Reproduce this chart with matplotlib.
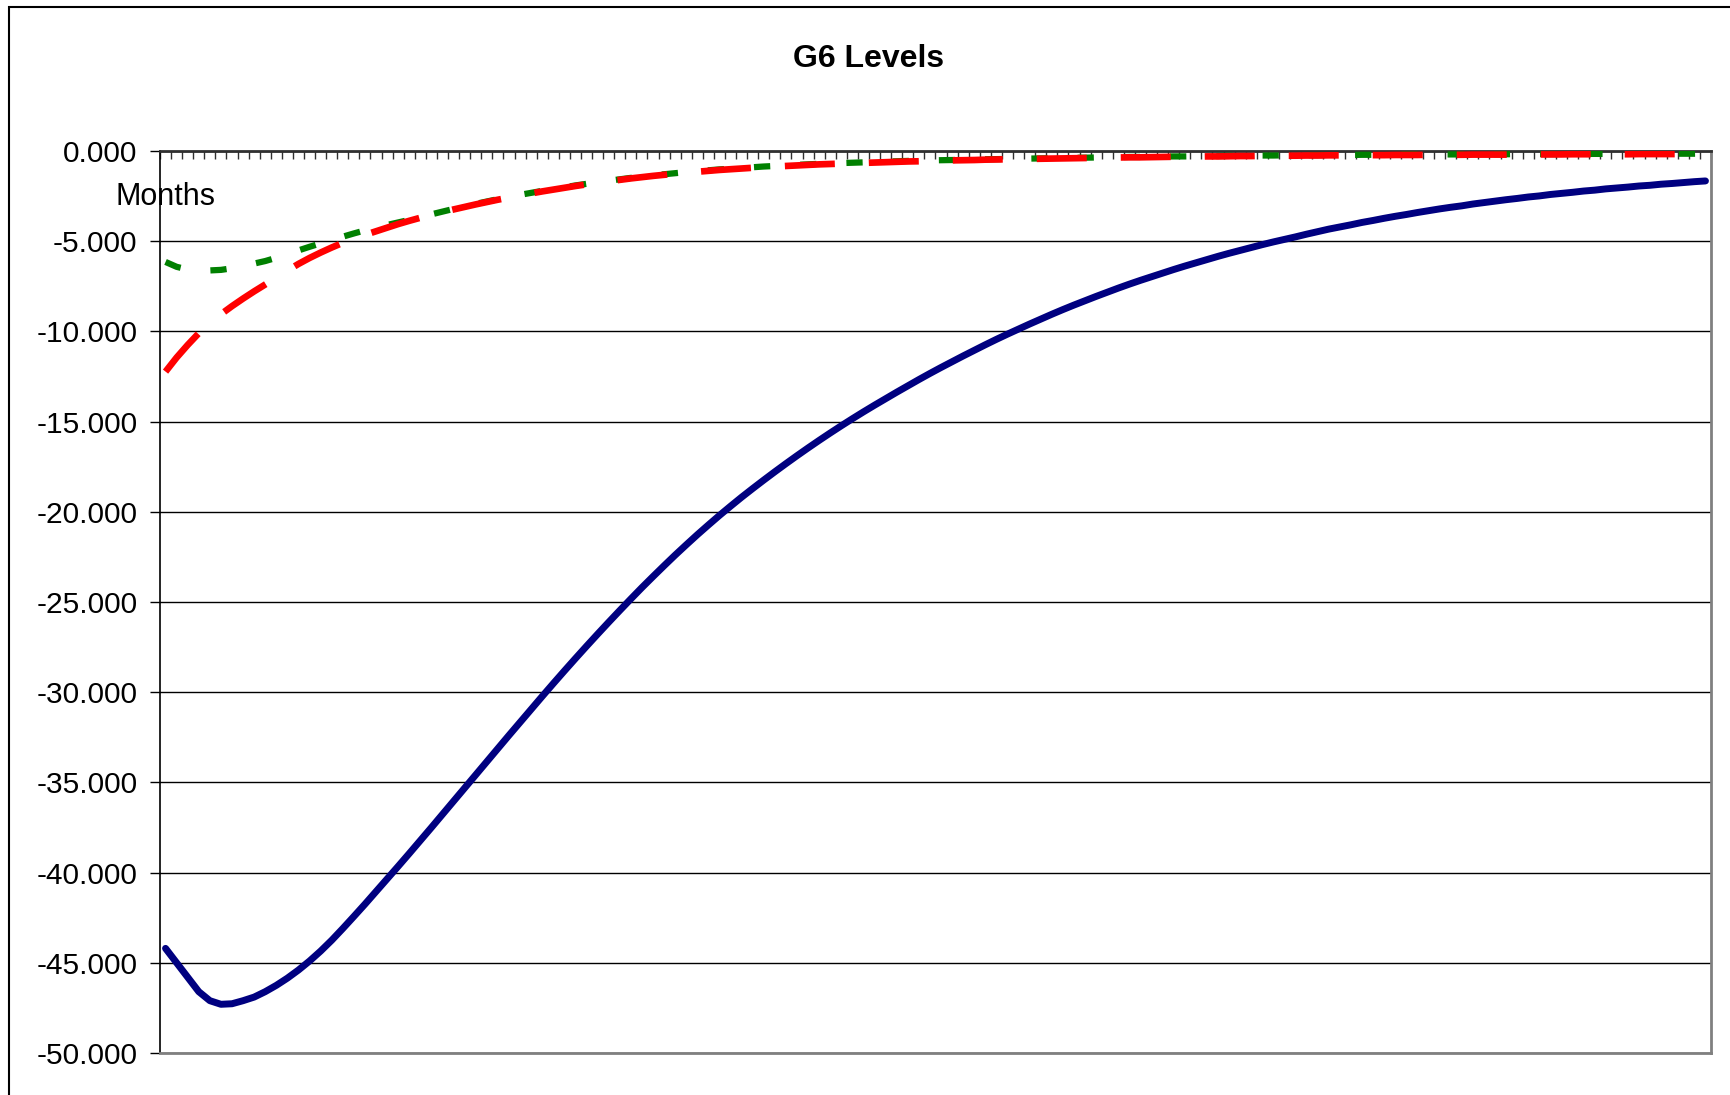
import numpy as np
import matplotlib
matplotlib.use("Agg")
import matplotlib.pyplot as plt
from matplotlib.patches import Rectangle

plt.rcParams['font.family'] = ['Liberation Sans', 'DejaVu Sans']

title = "G6 Levels"
x_title = "Months"
y_ticks = [0, -5, -10, -15, -20, -25, -30, -35, -40, -45, -50]
y_tick_labels = [f"{v:.3f}" for v in y_ticks]

blue = [
    -44.20, -45.00, -45.80, -46.60, -47.10, -47.30, -47.27, -47.10, -46.90, -46.60,
    -46.25, -45.85, -45.40, -44.90, -44.35, -43.75, -43.10, -42.43, -41.75, -41.05,
    -40.35, -39.65, -38.94, -38.22, -37.50, -36.77, -36.04, -35.31, -34.58, -33.85,
    -33.12, -32.39, -31.67, -30.95, -30.23, -29.52, -28.82, -28.13, -27.45, -26.78,
    -26.12, -25.47, -24.83, -24.20, -23.59, -22.99, -22.40, -21.83, -21.27, -20.73,
    -20.20, -19.69, -19.19, -18.71, -18.24, -17.78, -17.33, -16.89, -16.46, -16.04,
    -15.63, -15.23, -14.84, -14.46, -14.09, -13.73, -13.37, -13.02, -12.67, -12.33,
    -12.00, -11.68, -11.36, -11.05, -10.74, -10.44, -10.15, -9.87, -9.59, -9.32,
    -9.05, -8.79, -8.54, -8.30, -8.06, -7.83, -7.60, -7.38, -7.17, -6.97,
    -6.77, -6.57, -6.38, -6.20, -6.02, -5.84, -5.67, -5.51, -5.35, -5.19,
    -5.04, -4.90, -4.76, -4.61, -4.47, -4.33, -4.21, -4.09, -3.96, -3.85,
    -3.73, -3.62, -3.52, -3.41, -3.31, -3.21, -3.12, -3.04, -2.94, -2.86,
    -2.78, -2.70, -2.63, -2.55, -2.49, -2.41, -2.35, -2.29, -2.22, -2.17,
    -2.10, -2.05, -2.00, -1.94, -1.90, -1.84, -1.80, -1.75, -1.70, -1.66,
]

red = [
    -12.23, -11.45, -10.75, -10.10, -9.55, -9.05, -8.60, -8.18, -7.78, -7.40,
    -7.02, -6.63, -6.26, -5.93, -5.63, -5.35, -5.09, -4.86, -4.65, -4.45,
    -4.25, -4.05, -3.87, -3.70, -3.54, -3.39, -3.24, -3.10, -2.96, -2.83,
    -2.70, -2.58, -2.46, -2.35, -2.24, -2.14, -2.04, -1.94, -1.85, -1.76,
    -1.68, -1.60, -1.52, -1.45, -1.38, -1.32, -1.26, -1.20, -1.15, -1.10,
    -1.05, -1.01, -0.97, -0.93, -0.89, -0.86, -0.83, -0.80, -0.77, -0.74,
    -0.72, -0.70, -0.68, -0.66, -0.64, -0.62, -0.60, -0.58, -0.57, -0.55,
    -0.54, -0.52, -0.51, -0.50, -0.48, -0.47, -0.46, -0.45, -0.44, -0.43,
    -0.42, -0.41, -0.40, -0.39, -0.38, -0.37, -0.36, -0.35, -0.35, -0.34,
    -0.33, -0.32, -0.32, -0.31, -0.30, -0.30, -0.29, -0.28, -0.28, -0.27,
    -0.27, -0.26, -0.26, -0.25, -0.25, -0.24, -0.24, -0.24, -0.23, -0.23,
    -0.23, -0.22, -0.22, -0.22, -0.21, -0.21, -0.21, -0.21, -0.20, -0.20,
    -0.20, -0.20, -0.19, -0.19, -0.19, -0.19, -0.19, -0.18, -0.18, -0.18,
    -0.18, -0.18, -0.18, -0.17, -0.17, -0.17, -0.17, -0.17, -0.17, -0.16,
]

green = [
    -6.15, -6.42, -6.57, -6.63, -6.62, -6.59, -6.50, -6.38, -6.24, -6.10,
    -5.92, -5.72, -5.51, -5.31, -5.12, -4.93, -4.75, -4.57, -4.40, -4.24,
    -4.10, -3.96, -3.82, -3.67, -3.51, -3.36, -3.21, -3.07, -2.93, -2.80,
    -2.67, -2.55, -2.43, -2.32, -2.21, -2.11, -2.01, -1.91, -1.82, -1.73,
    -1.65, -1.57, -1.49, -1.42, -1.35, -1.29, -1.23, -1.17, -1.12, -1.07,
    -1.02, -0.98, -0.94, -0.90, -0.86, -0.83, -0.80, -0.77, -0.74, -0.71,
    -0.69, -0.67, -0.65, -0.63, -0.61, -0.59, -0.57, -0.55, -0.54, -0.52,
    -0.51, -0.50, -0.49, -0.48, -0.46, -0.45, -0.44, -0.43, -0.42, -0.41,
    -0.40, -0.39, -0.38, -0.37, -0.36, -0.35, -0.34, -0.33, -0.33, -0.32,
    -0.31, -0.30, -0.30, -0.29, -0.28, -0.28, -0.27, -0.26, -0.26, -0.25,
    -0.25, -0.24, -0.24, -0.23, -0.23, -0.22, -0.22, -0.22, -0.21, -0.21,
    -0.21, -0.20, -0.20, -0.20, -0.19, -0.19, -0.19, -0.19, -0.18, -0.18,
    -0.18, -0.18, -0.17, -0.17, -0.17, -0.17, -0.17, -0.16, -0.16, -0.16,
    -0.16, -0.16, -0.16, -0.15, -0.15, -0.15, -0.15, -0.15, -0.15, -0.14,
]

months = np.arange(len(blue))

W, H = 1730, 1095
fig = plt.figure(figsize=(W / 100, H / 100), dpi=100)
fig.patch.set_facecolor('white')

left, right, top, bottom = 160, 1711, 151, 1053
ax = fig.add_axes([left / W, 1 - bottom / H, (right - left) / W, (bottom - top) / H])

ax.plot(months, green, color='#008000', lw=4.5, dashes=(2.6, 4.8), solid_capstyle='butt', zorder=3)
ax.plot(months, red, color='#FF0000', lw=4.8, dashes=(7.5, 5.1), solid_capstyle='butt', zorder=4)
ax.plot(months, blue, color='#000080', lw=5.0, solid_capstyle='round', solid_joinstyle='round', zorder=5)

ax.set_xlim(-0.5, len(blue) - 0.5)
ax.set_ylim(-50, 0)

ax.set_yticks(y_ticks)
ax.set_yticklabels(y_tick_labels, fontsize=21.5)
ax.tick_params(axis='y', direction='out', length=7.2, width=1.0, color='black', pad=9)
ax.yaxis.grid(True, color='black', lw=1.0)
ax.set_axisbelow(True)

ax.xaxis.set_ticks_position('top')
ax.set_xticks(np.arange(len(blue) + 1) - 0.5)
ax.tick_params(axis='x', direction='in', length=6.0, width=1.0, color='#303030',
               labeltop=False, labelbottom=False, top=True, bottom=False)

ax.spines['left'].set_color('black')
ax.spines['left'].set_linewidth(1.2)
ax.spines['top'].set_color('#303030')
ax.spines['top'].set_linewidth(2.0)
ax.spines['right'].set_color('#808080')
ax.spines['right'].set_linewidth(2.0)
ax.spines['bottom'].set_color('#808080')
ax.spines['bottom'].set_linewidth(2.0)

fig.text(869 / W, 1 - 59 / H, title, ha='center', va='center', fontsize=23, fontweight='bold')
fig.text(165.5 / W, 1 - 197 / H, x_title, ha='center', va='center', fontsize=22)

fig.add_artist(Rectangle((9 / W, -0.05), 1.2, 1 - 7 / H + 0.05, transform=fig.transFigure,
                         fill=False, edgecolor='black', lw=1.5))

fig.savefig('out.png', dpi=100, facecolor='white')
